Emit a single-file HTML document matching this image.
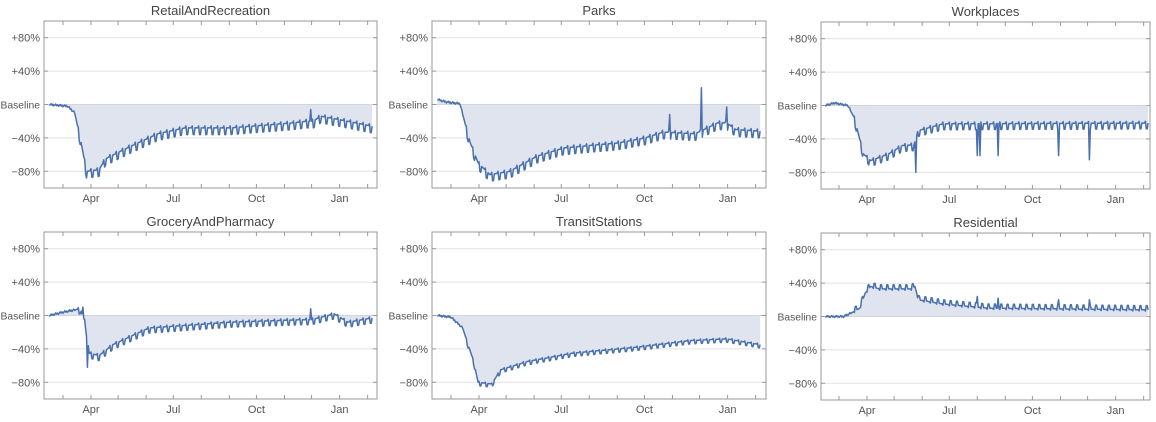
<!DOCTYPE html><html><head><meta charset="utf-8"><style>
html,body{margin:0;padding:0;background:#fff;width:1156px;height:422px;overflow:hidden}
svg{display:block;font-family:"Liberation Sans",sans-serif}
</style></head><body>
<svg id="s" width="1156" height="422" xmlns="http://www.w3.org/2000/svg"></svg>
<script>
const S=document.getElementById('s');let h='';
const panels=[
{t:'RetailAndRecreation',L:44,R:377,T:21,B:188,apr:91,k:[[0,0],[20,-2],[28,-10],[34,-40],[41,-80],[55,-78],[62,-65],[90,-50],[120,-35],[150,-28],[200,-28],[270,-22],[285,-20],[292,-20],[300,-14],[320,-18],[357,-26]],amp:8,sp:[[289,-6]]},
{t:'Parks',L:432,R:766,T:21,B:188,apr:479,k:[[0,6],[10,3],[25,1],[30,-20],[36,-45],[45,-70],[58,-84],[80,-80],[110,-62],[140,-52],[200,-46],[230,-40],[250,-33],[285,-35],[295,-30],[310,-22],[320,-22],[330,-30],[357,-32]],amp:8,sp:[[257,-12],[292,20],[320,-3]]},
{t:'Workplaces',L:821,R:1150,T:22,B:189,apr:867,k:[[0,0],[10,3],[25,0],[32,-15],[42,-58],[50,-66],[70,-58],[85,-48],[98,-47],[103,-30],[130,-22],[357,-21]],amp:7,sp:[[100,-80],[168,-60],[171,-60],[191,-60],[258,-60],[292,-65]]},
{t:'GroceryAndPharmacy',L:44,R:377,T:232,B:399,apr:91,k:[[0,0],[15,4],[34,8],[40,-10],[44,-45],[55,-48],[70,-35],[90,-25],[110,-15],[200,-8],[280,-5],[290,-5],[315,2],[330,-8],[357,-3]],amp:6,sp:[[37,10],[42,-62],[289,8]]},
{t:'TransitStations',L:432,R:766,T:232,B:399,apr:479,k:[[0,0],[15,-2],[28,-15],[40,-55],[45,-80],[60,-82],[70,-65],[100,-55],[150,-45],[220,-38],[280,-30],[320,-28],[357,-35]],amp:4,sp:[]},
{t:'Residential',L:821,R:1150,T:233,B:400,apr:867,k:[[0,0],[20,0],[30,5],[38,10],[44,28],[50,36],[60,33],[95,33],[99,36],[103,20],[130,15],[180,10],[357,8]],amp:-5,sp:[[168,24],[191,22],[258,20],[292,20]]}
];
function interp(k,d){for(let i=1;i<k.length;i++){if(d<=k[i][0]){const a=k[i-1],b=k[i];return a[1]+(b[1]-a[1])*(d-a[0])/(b[0]-a[0]);}}return k[k.length-1][1];}
panels.forEach(p=>{
 const H=p.B-p.T, yb=p.T+H*0.5, u=H*0.2/40;
 const y=v=>yb-v*u, sc=0.904, x=d=>p.apr+(d-46)*sc;
 h+=`<text x="${(p.L+p.R)/2}" y="${p.T-6}" font-size="13" fill="#444" text-anchor="middle">${p.t}</text>`;
 [80,40,0,-40,-80].forEach(v=>{const yy=y(v);h+=`<line x1="${p.L}" x2="${p.R}" y1="${yy}" y2="${yy}" stroke="${v==0?'#c8c8c8':'#e2e2e2'}" stroke-width="1"/>`;
  h+=`<text x="${p.L-4}" y="${yy+4}" font-size="${v==0?10.3:11}" fill="#555" text-anchor="end">${v==0?'Baseline':(v>0?'+':'\u2212')+Math.abs(v)+'%'}</text>`;
  h+=`<line x1="${p.L}" x2="${p.L+4}" y1="${yy}" y2="${yy}" stroke="#999"/><line x1="${p.R-4}" x2="${p.R}" y1="${yy}" y2="${yy}" stroke="#999"/>`;});
 h+=`<rect x="${p.L}" y="${p.T}" width="${p.R-p.L}" height="${H}" fill="none" stroke="#999"/>`;
 [15,46,76,107,137,168,199,229,260,290,321,352].forEach(d=>{const xx=x(d);h+=`<line x1="${xx}" x2="${xx}" y1="${p.B}" y2="${p.B-4}" stroke="#999"/><line x1="${xx}" x2="${xx}" y1="${p.T}" y2="${p.T+4}" stroke="#999"/>`;});
 [['Apr',46],['Jul',137],['Oct',229],['Jan',321]].forEach(a=>{h+=`<text x="${x(a[1])}" y="${p.B+14}" font-size="11" fill="#555" text-anchor="middle">${a[0]}</text>`;});
 let pts=[];
 for(let d=0;d<=357;d++){let v=interp(p.k,d);const w=d%7;let osc=0;
  if(d>28){osc=(w==5||w==6)?-p.amp:(w==4?p.amp*0.3:0);} else osc=((d*37)%5-2)*0.6;
  v+=osc;p.sp.forEach(s=>{if(Math.abs(d-s[0])<1)v=s[1];});
  pts.push([x(d).toFixed(1),y(v).toFixed(1)]);}
 const line=pts.map(q=>q.join(',')).join(' ');
 h+=`<polygon points="${pts[0][0]},${yb} ${line} ${pts[pts.length-1][0]},${yb}" fill="#dfe4ef"/>`;
 h+=`<polyline points="${line}" fill="none" stroke="#4a71ad" stroke-width="1.5" stroke-linejoin="round"/>`;
});
S.innerHTML=h;
</script></body></html>
